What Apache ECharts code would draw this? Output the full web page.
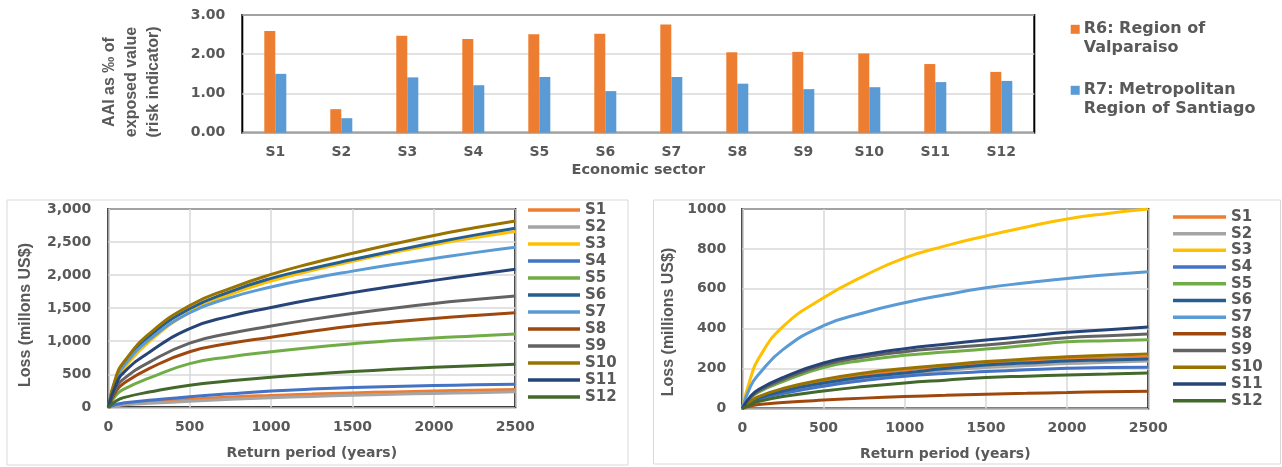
<!DOCTYPE html>
<html>
<head>
<meta charset="utf-8">
<script src="https://cdn.jsdelivr.net/npm/echarts@6/dist/echarts.min.js"></script>
<style>
  html, body { margin: 0; padding: 0; background: #fff; }
  #chart { width: 1282px; height: 467px; }
</style>
</head>
<body>
<div id="chart"></div>
<script>
// top bar chart: AAI per sector (per mille of exposed value)
const sectors = ['S1', 'S2', 'S3', 'S4', 'S5', 'S6', 'S7', 'S8', 'S9', 'S10', 'S11', 'S12'];
const regionNames = ['R6: Region of\nValparaiso', 'R7: Metropolitan\nRegion of Santiago'];
const aaiR6 = [2.59, 0.60, 2.47, 2.39, 2.51, 2.52, 2.76, 2.05, 2.06, 2.02, 1.75, 1.55];
const aaiR7 = [1.50, 0.37, 1.41, 1.21, 1.42, 1.06, 1.42, 1.25, 1.11, 1.16, 1.29, 1.32];
const aaiTicks = [0, 1, 2, 3];

// loss curves, x = return period (years)
const returnPeriods = [0, 50, 100, 250, 500, 750, 1000, 1250, 1500, 1750, 2000, 2250, 2500];
const periodTicks = [0, 500, 1000, 1500, 2000, 2500];

// left panel, one row per sector S1..S12
const lossLeft = [
  [0, 30, 50, 82, 120, 155, 180, 200, 218, 233, 247, 259, 270],
  [0, 22, 38, 62, 90, 120, 145, 165, 182, 197, 210, 222, 235],
  [0, 400, 600, 990, 1440, 1710, 1910, 2070, 2210, 2340, 2460, 2565, 2660],
  [0, 45, 70, 105, 160, 205, 245, 275, 298, 315, 328, 340, 350],
  [0, 190, 280, 440, 660, 765, 840, 905, 960, 1010, 1050, 1080, 1110],
  [0, 460, 670, 1070, 1490, 1750, 1950, 2100, 2235, 2365, 2490, 2605, 2710],
  [0, 430, 640, 1020, 1430, 1660, 1820, 1950, 2060, 2160, 2250, 2340, 2420],
  [0, 250, 370, 585, 840, 970, 1060, 1150, 1230, 1290, 1345, 1390, 1430],
  [0, 300, 440, 680, 970, 1120, 1230, 1330, 1420, 1500, 1570, 1630, 1685],
  [0, 480, 700, 1110, 1540, 1800, 2010, 2180, 2330, 2470, 2600, 2715, 2820],
  [0, 360, 540, 830, 1190, 1380, 1510, 1630, 1735, 1830, 1920, 2005, 2090],
  [0, 100, 150, 230, 335, 400, 455, 500, 540, 575, 605, 630, 650]
];
const lossLeftTicks = [0, 500, 1000, 1500, 2000, 2500, 3000];

// right panel, one row per sector S1..S12
const lossRight = [
  [0, 33, 56, 95, 138, 170, 192, 210, 227, 238, 248, 253, 258],
  [0, 28, 50, 85, 122, 150, 170, 190, 205, 215, 225, 232, 238],
  [0, 150, 250, 410, 555, 665, 755, 815, 865, 910, 950, 978, 1000],
  [0, 25, 45, 75, 112, 140, 162, 175, 185, 194, 202, 205, 207],
  [0, 50, 82, 135, 205, 242, 267, 283, 298, 316, 335, 340, 345],
  [0, 30, 52, 88, 128, 158, 178, 200, 218, 228, 238, 243, 248],
  [0, 110, 170, 295, 415, 480, 530, 570, 605, 630, 652, 670, 685],
  [0, 12, 20, 30, 42, 52, 60, 66, 72, 76, 80, 84, 87],
  [0, 55, 88, 145, 218, 258, 285, 303, 318, 337, 355, 365, 373],
  [0, 35, 60, 100, 145, 178, 200, 218, 235, 248, 260, 267, 273],
  [0, 60, 95, 155, 228, 270, 300, 322, 343, 362, 382, 395, 408],
  [0, 20, 35, 60, 88, 110, 128, 142, 155, 162, 168, 173, 178]
];
const lossRightTicks = [0, 200, 400, 600, 800, 1000];

const barColors = ['#ED7D31', '#5B9BD5'];
const sectorColors = ['#ED7D31', '#A5A5A5', '#FFC000', '#4472C4', '#70AD47', '#255E91',
  '#5B9BD5', '#9E480E', '#636363', '#997300', '#264478', '#43682B'];

const grey = '#595959';
const txt = { fontFamily: 'DejaVu Sans', fontWeight: 'bold', color: grey };
const vertFont = 'bold 16px "Liberation Sans"';
const plain = v => String(v);

function pairs(row) {
  return row.map((v, i) => [returnPeriods[i], v]);
}

function valueAxis(grid, ticks, fmt, margin) {
  return {
    type: 'value', gridIndex: grid,
    min: ticks[0], max: ticks[ticks.length - 1], interval: ticks[1] - ticks[0],
    axisLine: { show: false }, axisTick: { show: false },
    splitLine: { lineStyle: { color: '#D9D9D9', width: 1.5 } },
    axisLabel: Object.assign({ fontSize: 14, margin: margin, formatter: fmt }, txt)
  };
}

function periodAxis(grid) {
  const ax = valueAxis(grid, periodTicks, plain, 13);
  ax.name = 'Return period (years)';
  ax.nameLocation = 'middle';
  ax.nameGap = 39;
  ax.nameTextStyle = Object.assign({ fontSize: 14 }, txt);
  return ax;
}

const chart = echarts.init(document.getElementById('chart'));

const series = [];
regionNames.forEach((name, k) => {
  series.push({
    name: name, type: 'bar', xAxisIndex: 0, yAxisIndex: 0,
    data: k === 0 ? aaiR6 : aaiR7,
    barWidth: 11, barGap: '0%',
    itemStyle: { color: barColors[k] }
  });
});
[lossLeft, lossRight].forEach((rows, p) => {
  rows.forEach((row, i) => {
    series.push({
      name: sectors[i], type: 'line', xAxisIndex: p + 1, yAxisIndex: p + 1,
      data: pairs(row), smooth: 0.5,
      symbol: 'none', showSymbol: false,
      lineStyle: { width: 3, color: sectorColors[i] },
      itemStyle: { color: sectorColors[i] }
    });
  });
});

const gridBase = { show: true, borderColor: '#000', borderWidth: 2, backgroundColor: 'transparent', outerBoundsMode: 'none' };

chart.setOption({
  animation: false,
  grid: [
    Object.assign({ left: 242.3, top: 15, width: 792, height: 117.7 }, gridBase),
    Object.assign({ left: 108.3, top: 209, width: 407, height: 198.3 }, gridBase),
    Object.assign({ left: 742.3, top: 209, width: 406, height: 199.5 }, gridBase)
  ],
  xAxis: [
    {
      type: 'category', gridIndex: 0, data: sectors,
      axisLine: { show: false }, axisTick: { show: false },
      axisLabel: Object.assign({ fontSize: 14, margin: 13 }, txt),
      name: 'Economic sector', nameLocation: 'middle', nameGap: 30,
      nameTextStyle: Object.assign({ fontSize: 14.5 }, txt)
    },
    periodAxis(1),
    periodAxis(2)
  ],
  yAxis: [
    valueAxis(0, aaiTicks, v => v.toFixed(2), 17),
    valueAxis(1, lossLeftTicks, v => v.toLocaleString('en-US'), 17),
    valueAxis(2, lossRightTicks, plain, 16)
  ],
  legend: [
    {
      data: regionNames, orient: 'vertical', left: 1070.7, top: 19.8, padding: 0,
      icon: 'path://M0,0M0,38M0,5L9,5L9,14L0,14Z',
      itemWidth: 9, itemHeight: 38, itemGap: 23, selectedMode: false,
      textStyle: Object.assign({ fontSize: 16, lineHeight: 19, padding: [0, 0, 0, -1] }, txt)
    },
    {
      data: sectors, orient: 'vertical', left: 528, top: 201.5, padding: 0,
      icon: 'rect', itemWidth: 52, itemHeight: 3.5, itemGap: 0, selectedMode: false,
      textStyle: Object.assign({ fontSize: 15, lineHeight: 17 }, txt)
    },
    {
      data: sectors, orient: 'vertical', left: 1173, top: 208.6, padding: 0,
      icon: 'rect', itemWidth: 53, itemHeight: 3.5, itemGap: 0, selectedMode: false,
      textStyle: Object.assign({ fontSize: 15, lineHeight: 16.7 }, txt)
    }
  ],
  graphic: [
    { type: 'rect', shape: { x: 7, y: 200, width: 621, height: 265 }, style: { fill: 'none', stroke: '#D9D9D9', lineWidth: 1 }, z: -1 },
    { type: 'rect', shape: { x: 653.5, y: 200, width: 627, height: 264 }, style: { fill: 'none', stroke: '#D9D9D9', lineWidth: 1 }, z: -1 },
    {
      type: 'text', x: 132, y: 82, rotation: Math.PI / 2,
      style: { text: 'AAI as \u2030 of\nexposed value\n(risk indicator)', font: vertFont, lineHeight: 22, fill: grey, align: 'center', verticalAlign: 'middle' }
    },
    {
      type: 'text', x: 26, y: 315, rotation: Math.PI / 2,
      style: { text: 'Loss (millons US$)', font: vertFont, fill: grey, align: 'center', verticalAlign: 'middle' }
    },
    {
      type: 'text', x: 669, y: 322, rotation: Math.PI / 2,
      style: { text: 'Loss (millions US$)', font: vertFont, fill: grey, align: 'center', verticalAlign: 'middle' }
    }
  ],
  series: series
});
</script>
</body>
</html>
